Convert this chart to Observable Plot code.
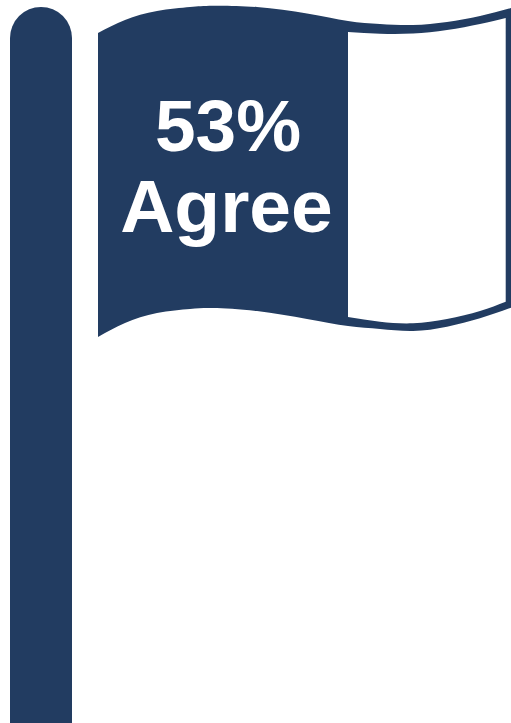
<!DOCTYPE html>
<html>
<head>
<meta charset="utf-8">
<script src="https://cdn.jsdelivr.net/npm/d3@7"></script>
<script src="https://cdn.jsdelivr.net/npm/@observablehq/plot@0.6"></script>
<style>html,body{margin:0;padding:0;background:#fff}svg{display:block}</style>
</head>
<body>
<div id="chart"></div>
<script>
const percent = 53;
const label = "Agree";
const navy = "#223c61";

const poleX = [10, 72];
const poleY = [7, 760];

const flagX =      [98, 125, 157, 190, 213, 257, 307, 348, 380, 413, 447, 480, 511];
const flagTop =    [33, 20, 11, 7, 5.7, 7, 13.5, 21, 24, 25, 22, 16, 8];
const flagBottom = [337, 323, 313, 309, 308, 311, 319, 326, 329, 331, 326.7, 318.3, 307.7];

const restX =      [348, 380, 413, 447, 480, 505.7];
const restTop =    [32, 33.7, 33.5, 30, 24, 18];
const restBottom = [317, 321.7, 323.3, 319, 311, 301.7];

const labelX = [227.5, 226];
const labelY = [150, 231];
const labelSize = [73, 75];
const labelText = [`${percent}%`, label];

const flag = flagX.map((x, i) => ({x, y1: flagTop[i], y2: flagBottom[i]}));
const rest = restX.map((x, i) => ({x, y1: restTop[i], y2: restBottom[i]}));
const labels = labelText.map((text, i) => ({text, x: labelX[i], y: labelY[i], size: labelSize[i]}));

const chart = Plot.plot({
  width: 511, height: 723,
  margin: 0,
  x: {domain: [0, 511], range: [0, 511], axis: null},
  y: {domain: [0, 723], range: [0, 723], axis: null},
  style: {background: "#fff"},
  marks: [
    Plot.rect([{}], {x1: poleX[0], x2: poleX[1], y1: poleY[0], y2: poleY[1], fill: navy, rx: 31, clip: true}),
    Plot.areaY(flag, {x: "x", y1: "y1", y2: "y2", fill: navy, curve: "natural"}),
    Plot.areaY(rest, {x: "x", y1: "y1", y2: "y2", fill: "#fff", curve: "natural"}),
    ...labels.map(d => Plot.text([d], {x: "x", y: "y", text: "text", fill: "#fff", fontSize: d.size, fontWeight: 700,
      fontFamily: "'Liberation Sans', Arial, sans-serif", textAnchor: "middle", lineAnchor: "bottom"}))
  ]
});
document.getElementById("chart").appendChild(chart);
</script>
</body>
</html>
